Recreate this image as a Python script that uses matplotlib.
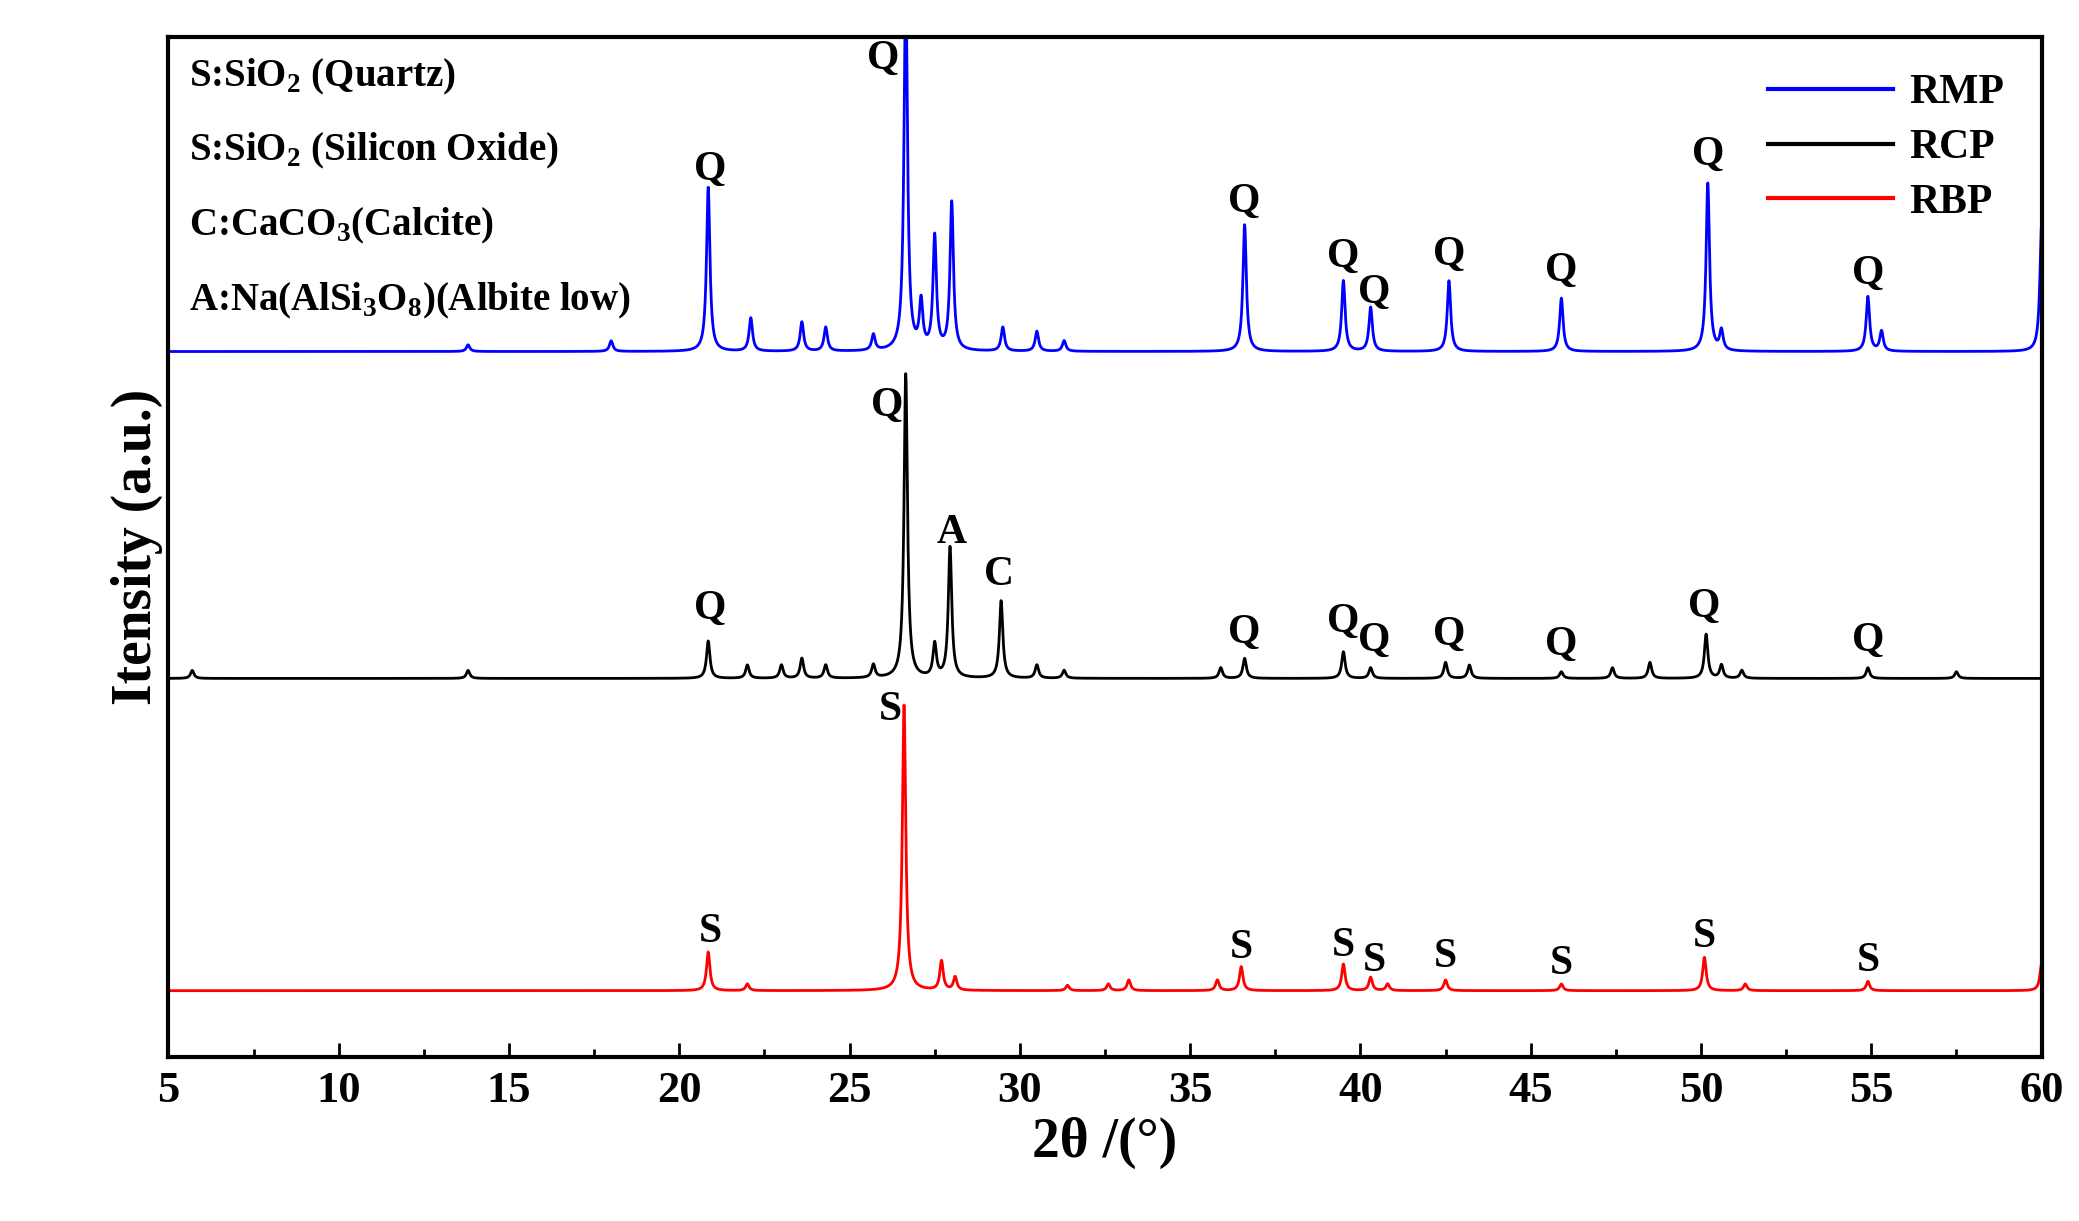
import numpy as np
import matplotlib.pyplot as plt
from matplotlib.lines import Line2D

# peak positions (2theta) and heights, per sample
rmp_pos = [13.8, 18.0, 20.85, 22.1, 23.6, 24.3, 25.7, 26.65, 27.1, 27.5, 28.0, 29.5, 30.5, 31.3,
           36.6, 39.5, 40.3, 42.6, 45.9, 50.2, 50.6, 54.9, 55.3, 60.0]
rmp_h = [5, 8, 123, 25, 22, 18, 12, 280, 35, 85, 111, 18, 15, 8,
         95, 53, 33, 53, 40, 126, 15, 41, 15, 95]
rcp_pos = [5.7, 13.8, 20.85, 22.0, 23.0, 23.6, 24.3, 25.7, 26.65, 27.5, 27.95, 29.45, 30.5, 31.3,
           35.9, 36.6, 39.5, 40.3, 42.5, 43.2, 45.9, 47.4, 48.5, 50.15, 50.6, 51.2, 54.9, 57.5]
rcp_h = [6, 6, 28, 10, 10, 15, 10, 10, 228, 25, 98, 58, 10, 6,
         8, 15, 20, 8, 12, 10, 5, 8, 12, 33, 10, 6, 8, 5]
rbp_pos = [20.85, 22.0, 26.6, 27.7, 28.1, 31.4, 32.6, 33.2, 35.8, 36.5, 39.5, 40.3, 40.8,
           42.5, 45.9, 50.1, 51.3, 54.9, 60.0]
rbp_h = [29, 5, 214, 22, 10, 4, 5, 8, 8, 18, 20, 10, 5, 8, 5, 25, 5, 7, 20]
baselines = {"RMP": 529, "RCP": 284, "RBP": 50}
colors = {"RMP": "#0000ff", "RCP": "#000000", "RBP": "#ff0000"}

# peak labels: (2theta, label, height above baseline)
rmp_labels = [(20.9, "Q", 122), (26.0, "Q", 205), (36.6, "Q", 98), (39.5, "Q", 57), (40.4, "Q", 30),
              (42.6, "Q", 58), (45.9, "Q", 46), (50.2, "Q", 133), (54.9, "Q", 44)]
rcp_labels = [(20.9, "Q", 38), (26.1, "Q", 190), (28.0, "A", 95), (29.4, "C", 63), (36.6, "Q", 20),
              (39.5, "Q", 28), (40.4, "Q", 14), (42.6, "Q", 18), (45.9, "Q", 11), (50.1, "Q", 39),
              (54.9, "Q", 14)]
rbp_labels = [(20.9, "S", 30), (26.2, "S", 196), (36.5, "S", 18), (39.5, "S", 19), (40.4, "S", 8),
              (42.5, "S", 11), (45.9, "S", 6), (50.1, "S", 26), (54.9, "S", 8)]

legend_lines = ["S:SiO$_2$ (Quartz)", "S:SiO$_2$ (Silicon Oxide)", "C:CaCO$_3$(Calcite)",
                "A:Na(AlSi$_3$O$_8$)(Albite low)"]

plt.rcParams["font.family"] = "Liberation Serif"
plt.rcParams["font.weight"] = "bold"
plt.rcParams["mathtext.fontset"] = "custom"
plt.rcParams["mathtext.rm"] = "Liberation Serif:bold"

x = np.arange(5, 60.001, 0.01)


def profile(pos, h, base):
    y = np.full_like(x, base, dtype=float)
    for p, a in zip(pos, h):
        y += a / (1 + ((x - p) / 0.06) ** 2)
    return y


fig = plt.figure(figsize=(20.79, 12.21), dpi=100)
ax = fig.add_axes([0.081, 0.134, 0.901, 0.836])

series = [("RMP", rmp_pos, rmp_h, rmp_labels), ("RCP", rcp_pos, rcp_h, rcp_labels),
          ("RBP", rbp_pos, rbp_h, rbp_labels)]
for name, pos, h, labels in series:
    b = baselines[name]
    ax.plot(x, profile(pos, h, b), color=colors[name], lw=2)
    for px, lab, dy in labels:
        ax.text(px, b + dy, lab, fontsize=30, ha="center", va="bottom")

for i, t in enumerate(legend_lines):
    ax.text(5.6, 735 - i * 56, t, fontsize=28, va="center")

handles = [Line2D([0], [0], color=colors[n], lw=3) for n in baselines]
ax.legend(handles, list(baselines), loc="upper right", frameon=False, fontsize=30,
          handlelength=3.0, handletextpad=0.4, labelspacing=0.4, borderaxespad=0.5)

ax.set_xlim(5, 60)
ax.set_ylim(0, 765)
ax.set_yticks([])
ax.set_xticks(range(5, 61, 5))
ax.set_xticks(np.arange(7.5, 60, 5), minor=True)
ax.tick_params(axis="x", direction="in", length=10, width=2, labelsize=32, pad=10)
ax.tick_params(axis="x", which="minor", direction="in", length=6, width=2)
for s in ax.spines.values():
    s.set_linewidth(3)
ax.set_xlabel("2θ /(°)", fontsize=40, fontweight="bold")
ax.set_ylabel("Itensity (a.u.)", fontsize=40, fontweight="bold")

fig.savefig("out.png", dpi=100)
